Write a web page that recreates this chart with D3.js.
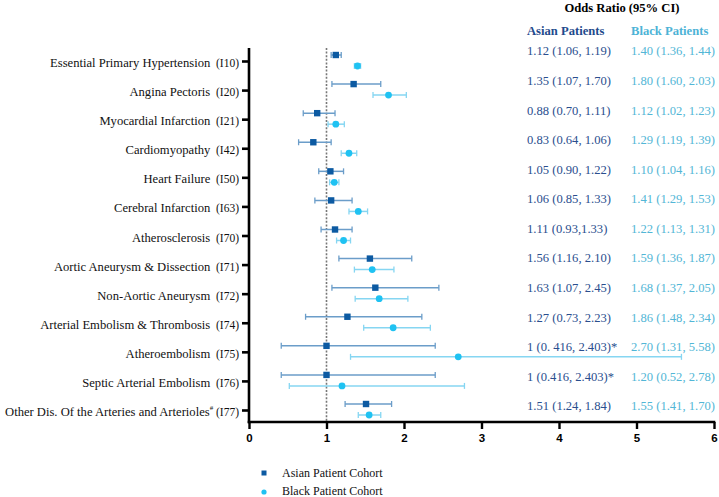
<!DOCTYPE html>
<html><head><meta charset="utf-8">
<script src="https://cdn.jsdelivr.net/npm/d3@7"></script>
<style>body{margin:0;background:#fff}svg{display:block}</style>
</head><body>
<svg id="chart" width="719" height="497"></svg>
<script>
const codes = ["I10","I20","I21","I42","I50","I63","I70","I71","I72","I74","I75","I76","I77"];
const names = ["Essential Primary Hypertension","Angina Pectoris","Myocardial Infarction","Cardiomyopathy","Heart Failure","Cerebral Infarction","Atherosclerosis","Aortic Aneurysm & Dissection","Non-Aortic Aneurysm","Arterial Embolism & Thrombosis","Atheroembolism","Septic Arterial Embolism","Other Dis. Of the Arteries and Arterioles"];
const asianOR = [1.12,1.35,0.88,0.83,1.05,1.06,1.11,1.56,1.63,1.27,1,1,1.51];
const asianLo = [1.06,1.07,0.70,0.64,0.90,0.85,0.93,1.16,1.07,0.73,0.416,0.416,1.24];
const asianHi = [1.19,1.70,1.11,1.06,1.22,1.33,1.33,2.10,2.45,2.23,2.403,2.403,1.84];
const blackOR = [1.40,1.80,1.12,1.29,1.10,1.41,1.22,1.59,1.68,1.86,2.70,1.20,1.55];
const blackLo = [1.36,1.60,1.02,1.19,1.04,1.29,1.13,1.36,1.37,1.48,1.31,0.52,1.41];
const blackHi = [1.44,2.03,1.23,1.39,1.16,1.53,1.31,1.87,2.05,2.34,5.58,2.78,1.70];
const asianText = ["1.12 (1.06, 1.19)","1.35 (1.07, 1.70)","0.88 (0.70, 1.11)","0.83 (0.64, 1.06)","1.05 (0.90, 1.22)","1.06 (0.85, 1.33)","1.11 (0.93,1.33)","1.56 (1.16, 2.10)","1.63 (1.07, 2.45)","1.27 (0.73, 2.23)","1 (0. 416, 2.403)*","1 (0.416, 2.403)*","1.51 (1.24, 1.84)"];
const blackText = ["1.40 (1.36, 1.44)","1.80 (1.60, 2.03)","1.12 (1.02, 1.23)","1.29 (1.19, 1.39)","1.10 (1.04, 1.16)","1.41 (1.29, 1.53)","1.22 (1.13, 1.31)","1.59 (1.36, 1.87)","1.68 (1.37, 2.05)","1.86 (1.48, 2.34)","2.70 (1.31, 5.58)","1.20 (0.52, 2.78)","1.55 (1.41, 1.70)"];
const xTicks = [0,1,2,3,4,5,6];
const seriesNames = ["Asian Patient Cohort","Black Patient Cohort"];

const svg = d3.select("#chart");
const serif = "'Liberation Serif','Times New Roman',serif";
const sans = "'Liberation Sans',Arial,sans-serif";
const C = {aM:"#0c5aa2", aB:"#6b9dc9", bM:"#1fc2f2", bB:"#86d6f2", aT:"#2a4e8e", bT:"#52b6d6", aH:"#1f4b8d", bH:"#4db3d6"};

const x = d3.scaleLinear().domain([0,6]).range([249,714]);
const y = d3.scalePoint().domain(codes).range([61,410]);
const yt = d3.scalePoint().domain(codes).range([51,406]);
const plotTop = 48, plotBottom = 422;
const aOff = -6, bOff = 5;

// reference line at OR = 1
svg.append("line").attr("x1",x(1)).attr("x2",x(1)).attr("y1",plotTop).attr("y2",plotBottom)
  .attr("stroke","#777").attr("stroke-width",1.6).attr("stroke-dasharray","2,1.6");

const rows = codes.map((c,i)=>({c,i}));
function bars(lo,hi,or,off,lineCol,markCol,shape){
  const g = svg.append("g");
  rows.forEach(({c,i})=>{
    const yy = y(c)+off;
    g.append("line").attr("x1",x(lo[i])).attr("x2",x(hi[i])).attr("y1",yy).attr("y2",yy).attr("stroke",lineCol).attr("stroke-width",1.5);
    [lo[i],hi[i]].forEach(v=>g.append("line").attr("x1",x(v)).attr("x2",x(v)).attr("y1",yy-3).attr("y2",yy+3).attr("stroke",lineCol).attr("stroke-width",1.3));
    if(shape==="sq") g.append("rect").attr("x",x(or[i])-3.2).attr("y",yy-3.2).attr("width",6.4).attr("height",6.4).attr("fill",markCol);
    else g.append("circle").attr("cx",x(or[i])).attr("cy",yy).attr("r",3.4).attr("fill",markCol);
  });
}
bars(asianLo,asianHi,asianOR,aOff,C.aB,C.aM,"sq");
bars(blackLo,blackHi,blackOR,bOff,C.bB,C.bM,"ci");

// y axis
const yAx = svg.append("g").attr("transform","translate(249,0)")
  .call(d3.axisLeft(y).tickSize(7).tickFormat(""));
yAx.select(".domain").remove();
yAx.selectAll(".tick line").attr("stroke","#000").attr("stroke-width",2.6);
svg.append("line").attr("x1",249).attr("x2",249).attr("y1",plotTop).attr("y2",plotBottom+1.3).attr("stroke","#000").attr("stroke-width",2.6);

// x axis
const xAx = svg.append("g").attr("transform",`translate(0,${plotBottom})`)
  .call(d3.axisBottom(x).tickValues(xTicks).tickSize(7).tickFormat(d3.format("d")));
xAx.select(".domain").remove();
xAx.selectAll(".tick line").attr("stroke","#000").attr("stroke-width",2.4);
xAx.selectAll(".tick text").attr("font-family",sans).attr("font-weight","bold").attr("font-size",11.5).attr("fill","#000").attr("dy","0.9em");
svg.append("line").attr("x1",247.7).attr("x2",715.3).attr("y1",plotBottom).attr("y2",plotBottom).attr("stroke","#000").attr("stroke-width",2.6);

// category labels
rows.forEach(({c,i})=>{
  const t = svg.append("text").attr("x",239).attr("y",y(c)).attr("dy","0.38em")
    .attr("text-anchor","end").attr("font-family",serif).attr("fill","#111");
  t.append("tspan").attr("font-size",12.6).text(names[i]);
  if(i===codes.length-1) t.append("tspan").attr("font-size",7).attr("dy","-0.9em").text("#");
  const ts = t.append("tspan").attr("font-size",11.5).text("\u00a0(" + c + ")");
  if(i===codes.length-1) ts.attr("dy","0.55em");
  else ts.text("\u00a0\u00a0(" + c + ")");
});

// table
svg.append("text").attr("x",622).attr("y",12).attr("text-anchor","middle").attr("font-family",serif)
  .attr("font-weight","bold").attr("font-size",12.6).attr("fill","#000").text("Odds Ratio (95% CI)");
svg.append("text").attr("x",527).attr("y",35).attr("font-family",serif).attr("font-weight","bold")
  .attr("font-size",12.6).attr("fill",C.aH).text("Asian Patients");
svg.append("text").attr("x",631).attr("y",35).attr("font-family",serif).attr("font-weight","bold")
  .attr("font-size",12.6).attr("fill",C.bH).text("Black Patients");
rows.forEach(({c,i})=>{
  svg.append("text").attr("x",527).attr("y",yt(c)).attr("dy","0.35em").attr("font-family",serif)
    .attr("font-size",12.6).attr("fill",C.aT).text(asianText[i]);
  svg.append("text").attr("x",631).attr("y",yt(c)).attr("dy","0.35em").attr("font-family",serif)
    .attr("font-size",12.6).attr("fill",C.bT).text(blackText[i]);
});

// legend
const lg = svg.append("g");
lg.append("rect").attr("x",261.5).attr("y",470.5).attr("width",5).attr("height",5).attr("fill",C.aM);
lg.append("circle").attr("cx",264).attr("cy",492).attr("r",2.6).attr("fill",C.bM);
lg.append("text").attr("x",282).attr("y",473).attr("dy","0.35em").attr("font-family",serif).attr("font-size",12).attr("fill","#111").text(seriesNames[0]);
lg.append("text").attr("x",282).attr("y",491).attr("dy","0.35em").attr("font-family",serif).attr("font-size",12).attr("fill","#111").text(seriesNames[1]);
</script>
</body></html>
